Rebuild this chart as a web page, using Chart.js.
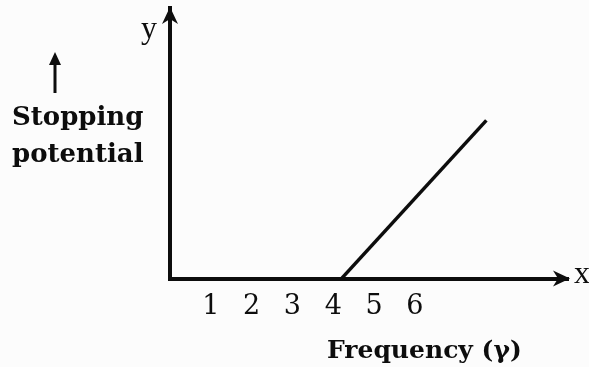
<!DOCTYPE html>
<html>
<head>
<meta charset="utf-8">
<script src="https://cdn.jsdelivr.net/npm/chart.js@4.4.1/dist/chart.umd.min.js"></script>
<style>
  html, body { margin: 0; padding: 0; background: #fcfcfc; }
  #plot { display: block; }
</style>
</head>
<body>
<canvas id="plot" width="589" height="367"></canvas>
<script>
// tick labels on the frequency axis
const freqTicks = [1, 2, 3, 4, 5, 6];
// the straight line: stopping potential against frequency
const frequency = [4.2, 7.75];
const stoppingPotential = [0, 3.9];

const ink = '#0d0d0d';

// arrows on the axes plus the free text labels
const decorations = {
    id: 'decorations',
    beforeDraw(chart) {
        const ctx = chart.ctx;
        ctx.save();
        ctx.fillStyle = '#fcfcfc';
        ctx.fillRect(0, 0, chart.width, chart.height);
        ctx.restore();
    },
    afterDraw(chart) {
        const ctx = chart.ctx;
        const area = chart.chartArea;
        ctx.save();
        ctx.fillStyle = ink;
        ctx.strokeStyle = ink;

        // x arrow head
        let tx = area.right + 2, ty = area.bottom;
        ctx.beginPath();
        ctx.moveTo(tx, ty);
        ctx.lineTo(tx - 17, ty - 8);
        ctx.lineTo(tx - 12, ty);
        ctx.lineTo(tx - 17, ty + 8);
        ctx.closePath();
        ctx.fill();

        // y arrow head
        tx = area.left; ty = area.top - 1;
        ctx.beginPath();
        ctx.moveTo(tx, ty);
        ctx.lineTo(tx - 8, ty + 17);
        ctx.lineTo(tx, ty + 12);
        ctx.lineTo(tx + 8, ty + 17);
        ctx.closePath();
        ctx.fill();

        // small arrow above the y label
        ctx.lineWidth = 3;
        ctx.beginPath();
        ctx.moveTo(55, 93);
        ctx.lineTo(55, 60);
        ctx.stroke();
        ctx.beginPath();
        ctx.moveTo(55, 52);
        ctx.lineTo(49, 65);
        ctx.lineTo(61, 65);
        ctx.closePath();
        ctx.fill();

        ctx.textBaseline = 'alphabetic';
        ctx.textAlign = 'left';
        ctx.font = 'bold 26px "DejaVu Serif"';
        ctx.fillText('Stopping', 12, 125);
        ctx.fillText('potential', 12, 162);

        ctx.font = 'bold 25px "DejaVu Serif"';
        ctx.fillText('Frequency (γ)', 327, 358);

        ctx.font = '32px "Liberation Serif"';
        ctx.fillText('y', 141, 38);
        ctx.fillText('x', 574, 283);
        ctx.restore();
    }
};

new Chart(document.getElementById('plot'), {
    type: 'scatter',
    data: {
        datasets: [{
            data: frequency.map((f, i) => ({ x: f, y: stoppingPotential[i] })),
            showLine: true,
            borderColor: ink,
            borderWidth: 3.5,
            pointRadius: 0
        }]
    },
    options: {
        responsive: false,
        animation: false,
        devicePixelRatio: 1,
        layout: { padding: { left: 170, right: 21, top: 8, bottom: 32 } },
        plugins: {
            legend: { display: false },
            tooltip: { enabled: false }
        },
        scales: {
            x: {
                type: 'linear',
                min: 0,
                max: 9.75,
                grid: { display: false, drawTicks: false },
                border: { display: true, color: ink, width: 4 },
                afterBuildTicks: (scale) => {
                    scale.ticks = freqTicks.map(v => ({ value: v }));
                },
                ticks: {
                    color: ink,
                    padding: 12,
                    font: { family: 'DejaVu Serif', size: 27 },
                    callback: (v) => String(v)
                }
            },
            y: {
                type: 'linear',
                min: 0,
                max: 6.67,
                grid: { display: false, drawTicks: false },
                border: { display: true, color: ink, width: 4 },
                ticks: { display: false }
            }
        }
    },
    plugins: [decorations]
});
</script>
</body>
</html>
